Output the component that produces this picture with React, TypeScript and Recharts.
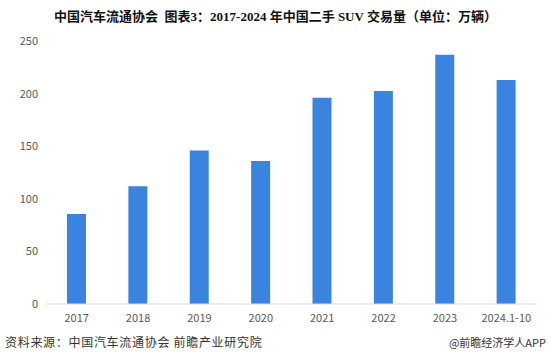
import { BarChart, Bar, XAxis, YAxis } from 'recharts';

const years = ['2017', '2018', '2019', '2020', '2021', '2022', '2023', '2024.1-10'];
const volumes = [85.5, 112, 146, 136, 196, 202.5, 237, 213];
const yTicks = [0, 50, 100, 150, 200, 250];

const chartData = years.map((year, i) => ({ year, volume: volumes[i] }));

export default function App() {
  return (
    <div style={{ position: 'fixed', left: 0, top: 0, width: 551, height: 356, background: '#fff', fontFamily: '"Noto Sans CJK SC", "Noto Sans", sans-serif' }}>
      <div
        style={{
          position: 'absolute',
          top: 6,
          left: 0,
          width: 551,
          textAlign: 'center',
          fontFamily: '"Liberation Serif", "Noto Sans CJK SC", serif',
          fontWeight: 'bold',
          fontSize: 13,
          color: '#111',
          whiteSpace: 'pre',
        }}
      >
        {'中国汽车流通协会  图表3：2017-2024 年中国二手 SUV 交易量（单位：万辆）'}
      </div>
      <div style={{ position: 'absolute', top: 0, left: 0 }}>
        <BarChart width={551} height={356} data={chartData} margin={{ top: 41, right: 14, left: 0, bottom: 22 }}>
          <XAxis
            dataKey="year"
            height={30}
            tickLine={false}
            axisLine={{ stroke: '#d9d9d9' }}
            tick={{ fill: '#595959', fontSize: 11 }}
            tickMargin={4}
            interval={0}
          />
          <YAxis
            width={46}
            domain={[0, 250]}
            ticks={yTicks}
            tickLine={false}
            axisLine={false}
            tick={{ fill: '#595959', fontSize: 11 }}
          />
          <Bar dataKey="volume" fill="#3a84e0" barSize={19} isAnimationActive={false} />
        </BarChart>
      </div>
      <div style={{ position: 'absolute', left: 5, top: 333, fontSize: 12, letterSpacing: 0.7, color: '#333' }}>
        资料来源：中国汽车流通协会 前瞻产业研究院
      </div>
      <div style={{ position: 'absolute', right: 5, top: 334, fontSize: 11, color: '#333' }}>
        @前瞻经济学人APP
      </div>
    </div>
  );
}
